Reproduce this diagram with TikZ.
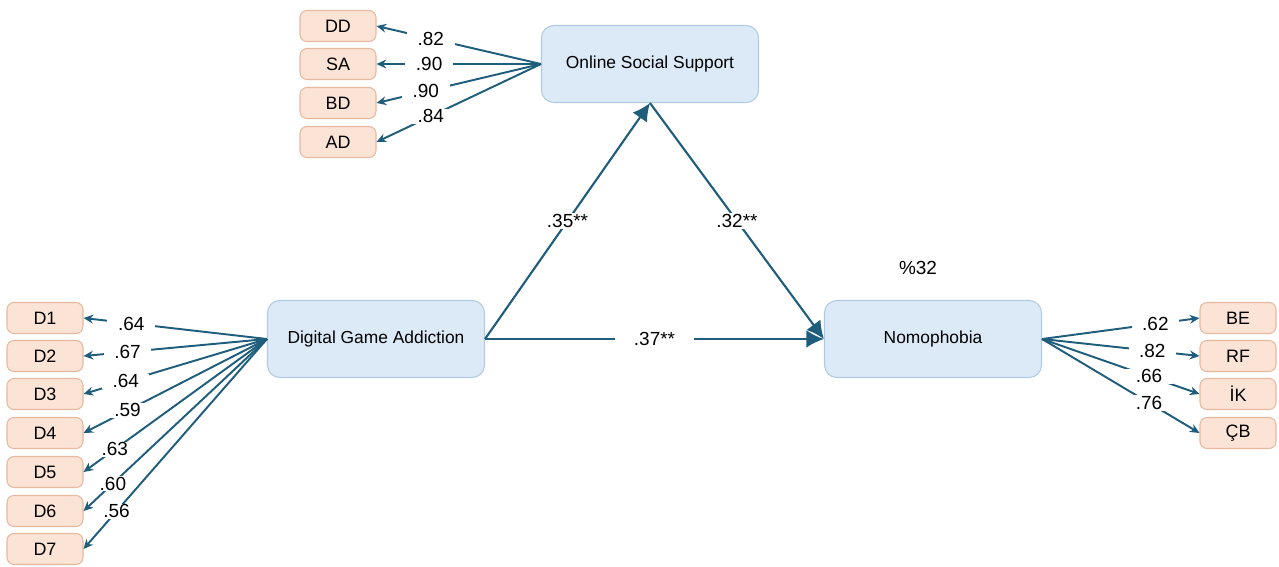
\documentclass[tikz,border=0pt]{standalone}
\usepackage{fontspec}
\setmainfont{Liberation Sans}
\usetikzlibrary{arrows.meta}
\definecolor{lat}{HTML}{DCEAF7}
\definecolor{latb}{HTML}{AFCBE3}
\definecolor{ind}{HTML}{FBE3D6}
\definecolor{indb}{HTML}{E6B89E}
\definecolor{ln}{HTML}{1E5D7C}
\tikzset{
  latent/.style={draw=latb, fill=lat, rounded corners=7pt, minimum width=217*0.02cm, minimum height=77*0.02cm, inner sep=0pt, font=\fontsize{9.9}{11}\selectfont, line width=0.6pt},
  indic/.style={draw=indb, fill=ind, rounded corners=4pt, minimum width=76*0.02cm, minimum height=31*0.02cm, inner sep=0pt, font=\fontsize{10.2}{11}\selectfont, line width=0.6pt},
  load/.style={draw=ln, line width=1.1pt, -{Stealth[length=5.5pt,width=5pt]}},
  path/.style={draw=ln, line width=1.2pt, -{Latex[length=10pt,width=10pt]}},
  lab/.style={fill=white, inner xsep=6pt, inner ysep=0.5pt, font=\fontsize{10.8}{12}\selectfont},
}
\begin{document}
\begin{tikzpicture}[x=0.02cm,y=-0.02cm]
\useasboundingbox (0,0) rectangle (1279,566);
% latent
\node[latent] (oss) at (650,64) {Online Social Support};
\node[latent] (dga) at (376,339) {Digital Game Addiction};
\node[latent] (nom) at (933,339) {Nomophobia};
% OSS indicators
\node[indic] (dd) at (338,26) {DD};
\node[indic] (sa) at (338,64) {SA};
\node[indic] (bd) at (338,103) {BD};
\node[indic] (ad) at (338,142) {AD};
% DGA indicators
\node[indic] (d1) at (45,318) {D1};
\node[indic] (d2) at (45,356) {D2};
\node[indic] (d3) at (45,394) {D3};
\node[indic] (d4) at (45,433) {D4};
\node[indic] (d5) at (45,472) {D5};
\node[indic] (d6) at (45,511) {D6};
\node[indic] (d7) at (45,549) {D7};
% Nom indicators
\node[indic] (be) at (1238,318) {BE};
\node[indic] (rf) at (1238,356) {RF};
\node[indic] (ik) at (1238,394) {İK};
\node[indic] (cb) at (1238,433) {ÇB};
% OSS loadings
\draw[load] (oss.west) -- node[lab,pos=0.67] {.82} (dd.east);
\draw[load] (oss.west) -- node[lab,pos=0.68] {.90} (sa.east);
\draw[load] (oss.west) -- node[lab,pos=0.70] {.90} (bd.east);
\draw[load] (oss.west) -- node[lab,pos=0.67] {.84} (ad.east);
% DGA loadings
\draw[load] (dga.west) -- node[lab,pos=0.74] {.64} (d1.east);
\draw[load] (dga.west) -- node[lab,pos=0.76] {.67} (d2.east);
\draw[load] (dga.west) -- node[lab,pos=0.77] {.64} (d3.east);
\draw[load] (dga.west) -- node[lab,pos=0.76] {.59} (d4.east);
\draw[load] (dga.west) -- node[lab,pos=0.83] {.63} (d5.east);
\draw[load] (dga.west) -- node[lab,pos=0.84] {.60} (d6.east);
\draw[load] (dga.west) -- node[lab,pos=0.82] {.56} (d7.east);
% Nom loadings
\draw[load] (nom.east) -- node[lab,pos=0.72] {.62} (be.west);
\draw[load] (nom.east) -- node[lab,pos=0.70] {.82} (rf.west);
\draw[load] (nom.east) -- node[lab,pos=0.68] {.66} (ik.west);
\draw[load] (nom.east) -- node[lab,pos=0.68] {.76} (cb.west);
% structural paths
\draw[path] (dga.east) -- node[lab,pos=0.5,inner xsep=3pt] {.35**} (oss.south);
\draw[path] (oss.south) -- node[lab,pos=0.5,inner xsep=3pt] {.32**} (nom.west);
\draw[path] (dga.east) -- node[lab,pos=0.5,inner xsep=11pt] {.37**} (nom.west);
\node[font=\fontsize{10.8}{12}\selectfont] (r2) at (918,268) {\%32};
\end{tikzpicture}
\end{document}
